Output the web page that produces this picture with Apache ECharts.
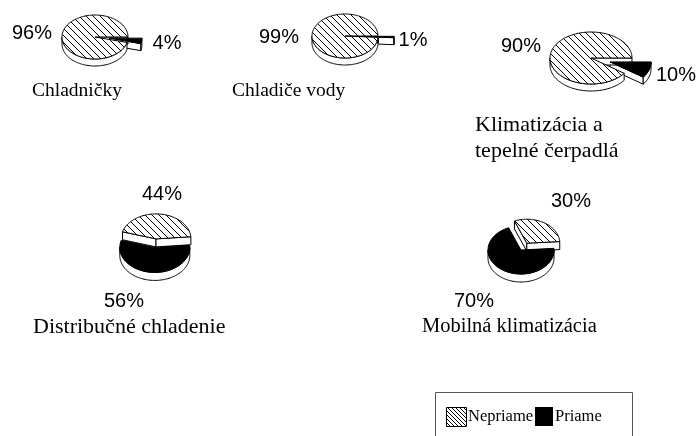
<!DOCTYPE html>
<html>
<head>
<meta charset="utf-8">
<script src="https://cdn.jsdelivr.net/npm/echarts@6/dist/echarts.min.js"></script>
<style>
  html, body { margin: 0; padding: 0; background: #fff; }
  #chart { width: 700px; height: 436px; }
</style>
</head>
<body>
<div id="chart"></div>
<script>
// data
const categories = ['Chladničky', 'Chladiče vody', 'Klimatizácia a\ntepelné čerpadlá', 'Distribučné chladenie', 'Mobilná klimatizácia'];
const seriesNames = ['Nepriame', 'Priame'];
const nepriame = [96, 99, 90, 44, 30];
const priame = [4, 1, 10, 56, 70];

// layout of each pie (ellipse, depth, start angle, explode per slice [priame, nepriame])
const pies = [
  { cx: 95,  cy: 37,  rx: 33, ry: 22, depth: 7, start: 0,  explode: [14, 0], lab: [[167, 43], [32, 33]] },
  { cx: 345, cy: 36,  rx: 33, ry: 22, depth: 7, start: 0,  explode: [16, 0], lab: [[413, 40], [279, 37]] },
  { cx: 591, cy: 58,  rx: 41, ry: 26, depth: 7, start: 0,  explode: [20, 0], lab: [[676, 75], [521, 46]] },
  { cx: 155, cy: 246, rx: 35, ry: 25, depth: 8, start: -5, explode: [2, 10], lab: [[124, 301], [162, 194]] },
  { cx: 521, cy: 250, rx: 33, ry: 24, depth: 8, start: -4, explode: [0, 11], lab: [[474, 301], [571, 201]] }
];
const titles = [
  { x: 32,  y: 91,  size: 19.5 },
  { x: 232, y: 91,  size: 19.5 },
  { x: 475, y: 138, size: 22 },
  { x: 33,  y: 327, size: 22 },
  { x: 422, y: 327, size: 20.5 }
];

const RAD = Math.PI / 180;

function makeHatch(step, lw) {
  const c = document.createElement('canvas');
  c.width = c.height = step;
  const ctx = c.getContext('2d');
  ctx.fillStyle = '#fff';
  ctx.fillRect(0, 0, step, step);
  ctx.strokeStyle = '#000';
  ctx.lineWidth = lw;
  ctx.beginPath();
  [-step, 0, step].forEach(o => { ctx.moveTo(o, 0); ctx.lineTo(o + step, step); });
  ctx.stroke();
  return c;
}
const hatch = { image: makeHatch(7, 1), repeat: 'repeat' };
const hatchSmall = { image: makeHatch(4, 1), repeat: 'repeat' };

const data = [];
categories.forEach((c, i) => {
  data.push([i, 0, priame[i], 0]);
  data.push([i, 1, nepriame[i], priame[i]]);
});

function renderItem(params, api) {
  const p = api.value(0), k = api.value(1), v = api.value(2), before = api.value(3);
  const L = pies[p];
  const a0 = L.start + before * 3.6, a1 = a0 + v * 3.6;
  const mid = (a0 + a1) / 2 * RAD;
  const e = L.explode[k];
  const cx = L.cx + e * Math.cos(mid);
  const cy = L.cy + e * (L.ry / L.rx) * Math.sin(mid);
  const d = L.depth;
  const pt = (a, dy) => [cx + L.rx * Math.cos(a * RAD), cy + L.ry * Math.sin(a * RAD) + (dy || 0)];
  const arc = (from, to, dy) => {
    const out = [];
    const n = Math.max(2, Math.ceil((to - from) / 2));
    for (let j = 0; j <= n; j++) out.push(pt(from + (to - from) * j / n, dy));
    return out;
  };
  const side = { fill: '#fff', stroke: '#000', lineWidth: 1 };
  const children = [];

  // radial faces turned to the viewer
  [[a0, Math.cos(a0 * RAD) < 0], [a1, Math.cos(a1 * RAD) > 0]].forEach(([a, vis]) => {
    if (!vis) return;
    const q = pt(a);
    children.push({ type: 'polygon', z2: 1, shape: { points: [[cx, cy], q, [q[0], q[1] + d], [cx, cy + d]] }, style: side });
  });
  // outer wall, front half only
  for (let kk = -1; kk <= 1; kk++) {
    const lo = Math.max(a0, kk * 360), hi = Math.min(a1, kk * 360 + 180);
    if (hi > lo) {
      const pts = arc(lo, hi, 0).concat(arc(lo, hi, d).reverse());
      children.push({ type: 'polygon', z2: 2, shape: { points: pts }, style: side });
    }
  }
  // top face
  children.push({
    type: 'polygon', z2: 3,
    shape: { points: [[cx, cy]].concat(arc(a0, a1, 0)) },
    style: { fill: k === 0 ? '#000' : hatch, stroke: '#000', lineWidth: 1 }
  });
  // value label
  children.push({
    type: 'text', z2: 5,
    style: {
      text: v + '%', x: L.lab[k][0], y: L.lab[k][1],
      textAlign: 'center', textVerticalAlign: 'middle',
      font: '20px "Liberation Sans", Arial, sans-serif', fill: '#000'
    }
  });
  return { type: 'group', children };
}

const serif = '"Liberation Serif", "Times New Roman", serif';
const graphic = categories.map((c, i) => ({
  type: 'text', silent: true,
  style: {
    text: c, x: titles[i].x, y: titles[i].y, textAlign: 'left', textVerticalAlign: 'middle',
    font: titles[i].size + 'px ' + serif, lineHeight: 26, fill: '#000'
  }
}));

// legend box
graphic.push(
  { type: 'rect', silent: true, shape: { x: 435.5, y: 392.5, width: 197, height: 60 }, style: { fill: 'none', stroke: '#555', lineWidth: 1 } },
  { type: 'rect', silent: true, shape: { x: 446.5, y: 407.5, width: 20, height: 19 }, style: { fill: hatchSmall, stroke: '#000', lineWidth: 1 } },
  { type: 'text', silent: true, style: { text: seriesNames[0], x: 468, y: 417, textVerticalAlign: 'middle', font: '16.5px ' + serif, fill: '#000' } },
  { type: 'rect', silent: true, shape: { x: 535, y: 407, width: 18, height: 19 }, style: { fill: '#000' } },
  { type: 'text', silent: true, style: { text: seriesNames[1], x: 555, y: 417, textVerticalAlign: 'middle', font: '16.5px ' + serif, fill: '#000' } }
);

const chart = echarts.init(document.getElementById('chart'));
chart.setOption({
  animation: false,
  backgroundColor: '#fff',
  graphic: graphic,
  series: [{
    type: 'custom',
    coordinateSystem: 'none',
    silent: true,
    renderItem: renderItem,
    data: data
  }]
});
</script>
</body>
</html>
